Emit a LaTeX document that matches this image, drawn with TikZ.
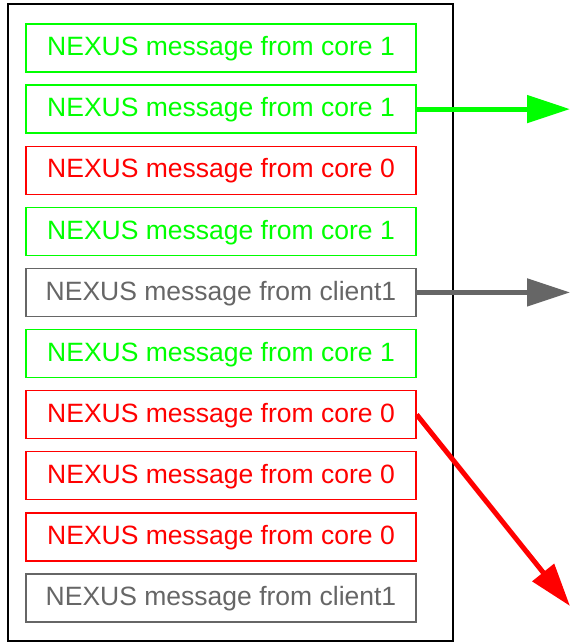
\documentclass[tikz,border=0pt]{standalone}
\usepackage{fontspec}
\setmainfont{Liberation Sans}
\usetikzlibrary{arrows.meta}
\definecolor{cgreen}{HTML}{00FF00}
\definecolor{cred}{HTML}{FF0000}
\definecolor{cgray}{HTML}{666666}
\tikzset{
  msg/.style={draw=#1, text=#1, line width=1.4pt, minimum width=390pt, minimum height=48pt, inner sep=0pt, text height=19pt, text depth=3.5pt, font=\fontsize{26.5}{30}\selectfont},
  arr/.style={draw=#1, line width=5pt, -{Triangle[length=43pt,width=27pt]}}
}
\begin{document}
\begin{tikzpicture}[x=1pt,y=-1pt]
\useasboundingbox (0,0) rectangle (570,643);
\node[draw, line width=2pt, minimum width=445pt, minimum height=637pt, inner sep=0pt] (outer) at (230.5,322.5) {};
\node[msg=cgreen] (m1) at (221,48) {NEXUS message from core 1};
\node[msg=cgreen] (m2) at (221,109.1) {NEXUS message from core 1};
\node[msg=cred] (m3) at (221,170.2) {NEXUS message from core 0};
\node[msg=cgreen] (m4) at (221,231.3) {NEXUS message from core 1};
\node[msg=cgray] (m5) at (221,292.4) {NEXUS message from client1};
\node[msg=cgreen] (m6) at (221,353.5) {NEXUS message from core 1};
\node[msg=cred] (m7) at (221,414.6) {NEXUS message from core 0};
\node[msg=cred] (m8) at (221,475.7) {NEXUS message from core 0};
\node[msg=cred] (m9) at (221,536.8) {NEXUS message from core 0};
\node[msg=cgray] (m10) at (221,597.9) {NEXUS message from client1};
\coordinate (t1) at (570,109.1);
\coordinate (t2) at (570,292.4);
\coordinate (t3) at (570,606);
\draw[arr=cgreen] (m2.east) -- (t1);
\draw[arr=cgray] (m5.east) -- (t2);
\draw[arr=cred] (m7.east) -- (t3);
\end{tikzpicture}
\end{document}
